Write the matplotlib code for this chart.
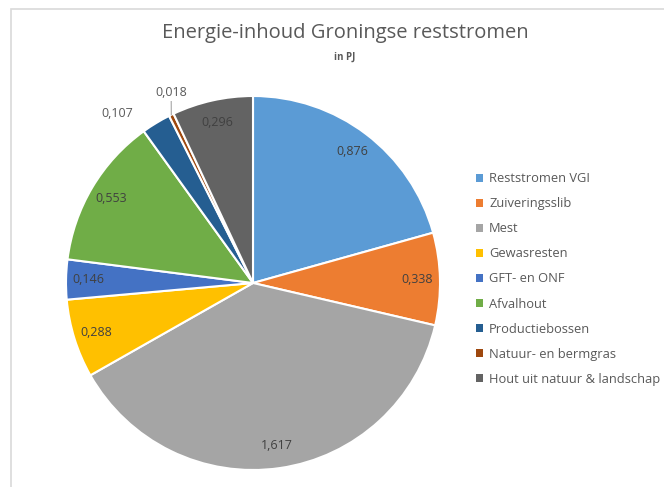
import numpy as np
import matplotlib
matplotlib.use("Agg")
import matplotlib.pyplot as plt
from matplotlib.patches import Rectangle, Patch

# data
categories = ["Reststromen VGI", "Zuiveringsslib", "Mest", "Gewasresten",
              "GFT- en ONF", "Afvalhout", "Productiebossen",
              "Natuur- en bermgras", "Hout uit natuur & landschap"]
values = [0.876, 0.338, 1.617, 0.288, 0.146, 0.553, 0.107, 0.018, 0.296]
colors = ["#5B9BD5", "#ED7D31", "#A5A5A5", "#FFC000", "#4472C4",
          "#70AD47", "#255E91", "#9E480E", "#636363"]

# label placement: (radius as fraction of R, angle offset in degrees)
label_pos = {6: (1.16, 7.5), 7: (1.11, -2.7)}
txt_col = "#595959"

W, H = 664, 487
fig = plt.figure(figsize=(W / 100, H / 100), dpi=100)

# chart area border
fig.patches.append(Rectangle((11 / W, -0.1), 1.2, (H - 9) / H + 0.1,
                             transform=fig.transFigure, fill=False,
                             edgecolor="#D9D9D9", lw=1.2))

cx, cy, R = 253, 283, 187
ax = fig.add_axes([(cx - R) / W, (H - cy - R) / H, 2 * R / W, 2 * R / H])
wedges, _ = ax.pie(values, colors=colors, startangle=90, counterclock=False,
                   radius=1, wedgeprops=dict(edgecolor="white", linewidth=1.5))
ax.set_xlim(-1, 1)
ax.set_ylim(-1, 1)
ax.set_aspect("equal")
ax.axis("off")

for i, (w, v) in enumerate(zip(wedges, values)):
    mid = np.deg2rad((w.theta1 + w.theta2) / 2)
    lab = ("%.3f" % v).replace(".", ",")
    if i in label_pos:
        r, off = label_pos[i]
        a = mid + np.deg2rad(off)
        x, y = r * np.cos(a), r * np.sin(a)
        ax.text(x, y, lab, ha="center", va="center", fontsize=9,
                color=txt_col, family="Open Sans", clip_on=False)
        if i == 7:
            ax.plot([x, np.cos(mid)], [y - 0.05, np.sin(mid)],
                    color="#A6A6A6", lw=0.8, clip_on=False)
    else:
        ax.text(0.88 * np.cos(mid), 0.88 * np.sin(mid), lab, ha="center",
                va="center", fontsize=9, color="#404040", family="Open Sans")

fig.text(345 / W, 1 - 33 / H, "Energie-inhoud Groningse reststromen",
         ha="center", va="center", fontsize=14.5, color=txt_col,
         family="Open Sans")
fig.text(345 / W, 1 - 57 / H, "in PJ", ha="center", va="center",
         fontsize=7, color=txt_col, family="Open Sans", weight="bold")

handles = [Patch(facecolor=c, edgecolor="none") for c in colors]
fig.legend(handles, categories, loc="center left",
           bbox_to_anchor=(464 / W, 1 - 279 / H), frameon=False,
           prop={"family": "Open Sans", "size": 9.3}, labelcolor=txt_col,
           handlelength=0.6, handleheight=0.6, handletextpad=0.45,
           labelspacing=0.93)

fig.savefig("out.png", dpi=100)
